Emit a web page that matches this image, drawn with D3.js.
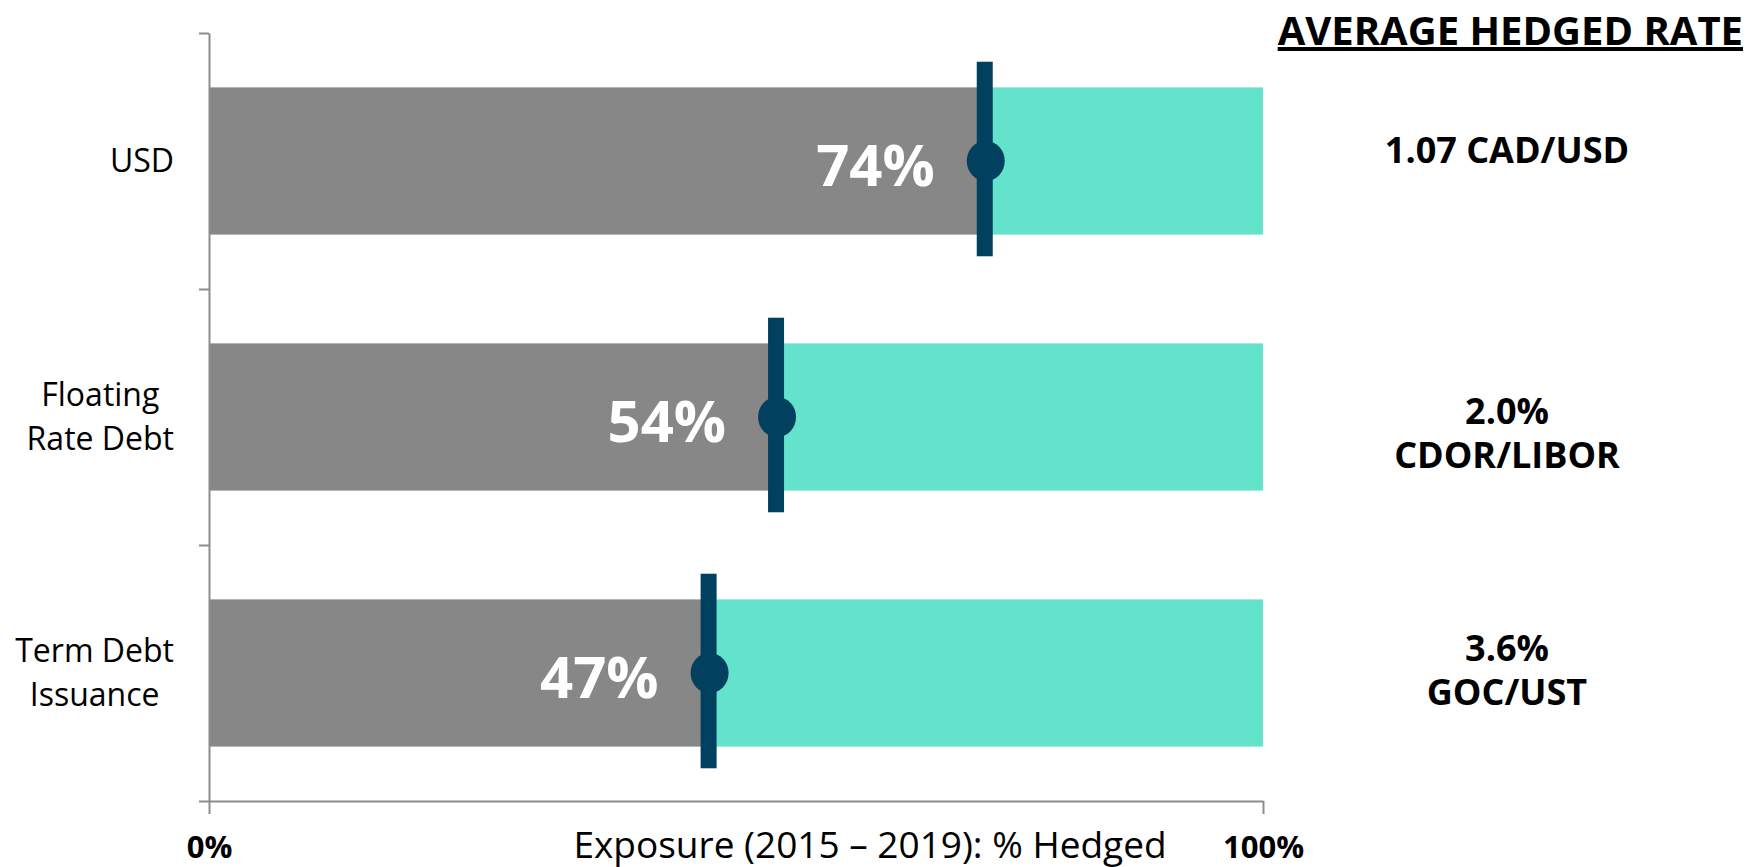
<!DOCTYPE html>
<html>
<head>
<meta charset="utf-8">
<script src="https://cdn.jsdelivr.net/npm/d3@7"></script>
<style>
  body { margin: 0; background: #fff; }
  text { font-family: "Open Sans", "Noto Sans", sans-serif; }
</style>
</head>
<body>
<svg id="chart"></svg>
<script>
// categories, hedged share and the average hedged rate text for each row
const categories = [["USD"], ["Floating", "Rate Debt"], ["Term Debt", "Issuance"]];
const hedged = [0.736, 0.538, 0.474];
const rates = [["1.07 CAD/USD"], ["2.0%", "CDOR/LIBOR"], ["3.6%", "GOC/UST"]];
const xTicks = [0, 1];
const rateTitle = "AVERAGE HEDGED RATE";
const xTitle = "Exposure (2015 \u2013 2019): % Hedged";

const width = 1750, height = 867;
const margin = { top: 33, right: 487, bottom: 66, left: 209 };
const rateDy = [-11, 16, -3];   // manual nudge of the rate text boxes

const svg = d3.select("#chart").attr("width", width).attr("height", height);

const x = d3.scaleLinear().domain([0, 1]).range([margin.left, width - margin.right]);
const y = d3.scaleBand().domain(d3.range(categories.length))
    .range([margin.top, height - margin.bottom]).padding(0);
const yEdge = d3.scaleLinear().domain([0, categories.length])
    .range([margin.top, height - margin.bottom]);

const barH = y.bandwidth() * 0.575;
const rows = categories.map((c, i) => ({ i: i, lines: c, v: hedged[i], rate: rates[i] }));

// bars: grey hedged part, teal remainder
const row = svg.selectAll("g.row").data(rows).join("g").attr("class", "row");

row.append("rect")
    .attr("x", x(0))
    .attr("y", d => y(d.i) + y.bandwidth() / 2 - barH / 2)
    .attr("width", d => x(d.v) - x(0))
    .attr("height", barH)
    .attr("fill", "#878787");

row.append("rect")
    .attr("x", d => x(d.v))
    .attr("y", d => y(d.i) + y.bandwidth() / 2 - barH / 2)
    .attr("width", d => x(1) - x(d.v))
    .attr("height", barH)
    .attr("fill", "#64e3cc");

// axes
const axisColor = "#8c8c8c";
const yAxis = svg.append("g")
    .attr("transform", "translate(" + x(0) + ",0)")
    .call(d3.axisLeft(yEdge).tickValues(d3.range(categories.length + 1)).tickFormat("").tickSize(10).tickSizeOuter(0));
yAxis.selectAll("line, path").attr("stroke", axisColor).attr("stroke-width", 2);

const xAxis = svg.append("g")
    .attr("transform", "translate(0," + yEdge(categories.length) + ")")
    .call(d3.axisBottom(x).tickValues(xTicks).tickFormat(d3.format(".0%")).tickSize(13).tickSizeOuter(0).tickPadding(22));
xAxis.selectAll("line, path").attr("stroke", axisColor).attr("stroke-width", 2);
xAxis.selectAll("text")
    .attr("fill", "#000")
    .style("font-size", "31px")
    .style("font-weight", "bold");

svg.append("text")
    .attr("x", 870)
    .attr("y", 858)
    .attr("text-anchor", "middle")
    .style("font-size", "37px")
    .text(xTitle);

// marker: vertical bar with a dot
const lineH = y.bandwidth() * 0.76;
row.append("rect")
    .attr("x", d => x(d.v) - 8)
    .attr("y", d => y(d.i) + y.bandwidth() / 2 - lineH / 2 - 2)
    .attr("width", 16)
    .attr("height", lineH)
    .attr("fill", "#01415f");

row.append("ellipse")
    .attr("cx", d => x(d.v) + 1)
    .attr("cy", d => y(d.i) + y.bandwidth() / 2)
    .attr("rx", 19)
    .attr("ry", 20)
    .attr("fill", "#01415f");

// percent labels in the bars
row.append("text")
    .attr("x", d => x(d.v) - 50)
    .attr("y", d => y(d.i) + y.bandwidth() / 2 + 25)
    .attr("text-anchor", "end")
    .attr("fill", "#fff")
    .style("font-size", "58px")
    .style("font-weight", "bold")
    .text(d => d3.format(".0%")(d.v));

// category labels, lines centred inside a right-aligned block
const lineGap = 44;
row.each(function(d) {
    const g = d3.select(this);
    const t = g.append("text")
        .attr("text-anchor", "middle")
        .style("font-size", "32px");
    const n = d.lines.length;
    const y0 = y(d.i) + y.bandwidth() / 2 + 11 - (n - 1) * lineGap / 2;
    t.selectAll("tspan").data(d.lines).join("tspan")
        .attr("y", (s, k) => y0 + k * lineGap)
        .text(s => s);
    let w = 0;
    t.selectAll("tspan").each(function() { w = Math.max(w, this.getComputedTextLength()); });
    t.selectAll("tspan").attr("x", x(0) - 35 - w / 2);
});

// average hedged rate column
const rateX = 1507;
row.append("text")
    .attr("text-anchor", "middle")
    .style("font-size", "36px")
    .style("font-weight", "bold")
    .selectAll("tspan").data(d => d.rate.map((s, k) => ({ s: s, k: k, d: d })))
    .join("tspan")
    .attr("x", rateX)
    .attr("y", t => y(t.d.i) + y.bandwidth() / 2 + 13 + rateDy[t.d.i] - (t.d.rate.length - 1) * lineGap / 2 + t.k * lineGap)
    .text(t => t.s);

svg.append("text")
    .attr("x", 1743)
    .attr("y", 45)
    .attr("text-anchor", "end")
    .style("font-size", "40px")
    .style("font-weight", "bold")
    .style("text-decoration", "underline")
    .text(rateTitle);
</script>
</body>
</html>
